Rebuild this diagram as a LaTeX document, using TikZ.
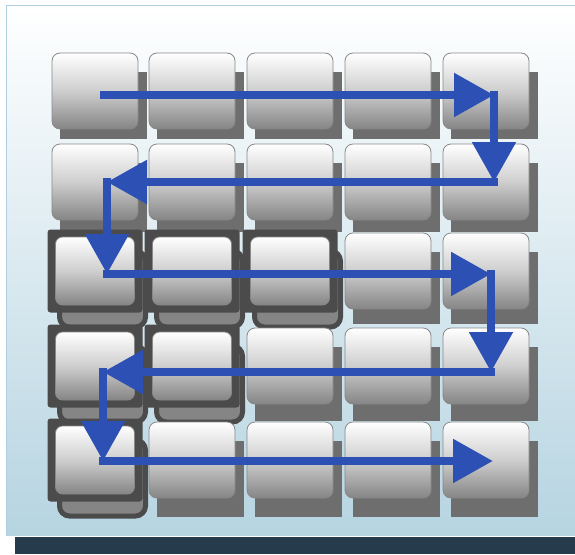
\documentclass[tikz,border=0pt]{standalone}
\usetikzlibrary{arrows.meta}

\definecolor{keyshade}{HTML}{6E6E6E}
\definecolor{keylow}{HTML}{858585}
\definecolor{keymid}{HTML}{CECECE}
\definecolor{keyedge}{HTML}{888888}
\definecolor{hotdark}{HTML}{4B4B4B}
\definecolor{pathblue}{HTML}{2C50B4}
\definecolor{panellow}{HTML}{B6D4E1}
\definecolor{panelline}{HTML}{AFCFE0}
\definecolor{barcol}{HTML}{263C4C}

\tikzset{
  keyface/.style={rectangle, rounded corners=8pt, minimum width=86pt, minimum height=76pt,
    inner sep=0pt, draw=keyedge, line width=0.8pt,
    top color=white, bottom color=keylow, middle color=keymid},
  hotface/.style={keyface, rounded corners=7pt, minimum width=79pt, minimum height=68pt},
  hotframe/.style={rectangle, rounded corners=3pt, minimum width=95pt, minimum height=83pt,
    inner sep=0pt, fill=hotdark},
  hottray/.style={rectangle, rounded corners=10pt, minimum width=86pt, minimum height=76pt,
    inner sep=0pt, draw=hotdark, line width=5pt, fill=keylow},
  snake/.style={pathblue, line width=8.5pt, line cap=rect, -{Triangle[length=40pt,width=42pt]}}
}

\begin{document}
\begin{tikzpicture}[x=1pt,y=-1pt]
    \useasboundingbox (0,0) rectangle (575,554);
    \fill[white] (0,0) rectangle (575,554);
    \shade[top color=white, bottom color=panellow] (6,5) rectangle (575,535);
    \draw[panelline, line width=1pt] (575,5) -- (6,5) -- (6,535);
    \fill[barcol] (15,537) rectangle (575,554);

    % 5x5 keys, the lower-left staircase is highlighted
    \foreach \y [count=\r] in {91,182,271,366,460} {
        \foreach \x [count=\c] in {95,192,290,388,486} {
            \pgfmathtruncatemacro\hot{and(\r>2,\r+\c<7)}
            \pgfmathsetmacro\drop{48+2.25*(\r-1)}
            \ifnum\hot=1
                \node[hottray] (t-\r-\c) at (\x+7.5,\y+18) {};
                \node[hotframe] (f-\r-\c) at (\x,\y) {};
                \node[hotface] (k-\r-\c) at (\x,\y) {};
            \else
                \fill[keyshade] (\x-35,\y-19) rectangle (\x+52,\y+\drop);
                \node[keyface] (k-\r-\c) at (\x,\y) {};
            \fi
        }
    }

    % snake path
    \coordinate (p0) at (104,95);
    \coordinate (p1) at (494,95);
    \coordinate (p2) at (494,182);
    \coordinate (p3) at (107,182);
    \coordinate (p4) at (107,274);
    \coordinate (p5) at (491,274);
    \coordinate (p6) at (491,372);
    \coordinate (p7) at (103,372);
    \coordinate (p8) at (103,461);
    \coordinate (p9) at (493,461);
    \foreach \a/\b in {0/1,1/2,2/3,3/4,4/5,5/6,6/7,7/8,8/9} {
        \draw[snake] (p\a) -- (p\b);
    }
\end{tikzpicture}
\end{document}
